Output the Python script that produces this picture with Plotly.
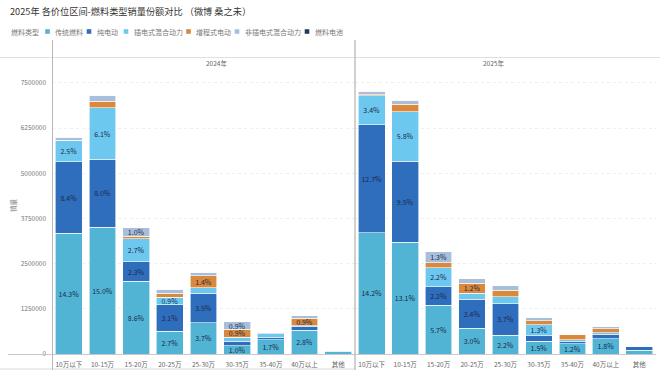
import plotly.graph_objects as go
from plotly.subplots import make_subplots

categories = ["10万以下", "10-15万", "15-20万", "20-25万", "25-30万", "30-35万", "35-40万", "40万以上", "其他"]
years = ["2024年", "2025年"]
year_totals = [23.4e6, 23.6e6]
fuel_types = ["传统燃料", "纯电动", "插电式混合动力", "增程式电动", "非插电式混合动力", "燃料电池"]
colors = ["#52b4d4", "#2f6ebd", "#6dc8f0", "#d9883c", "#a8bfdc", "#1f3b61"]

# share of the year's total sales (%)
share_2024 = {
    "传统燃料":       [14.3, 15.0, 8.6, 2.7, 3.7, 1.0, 1.7, 2.8, 0.35],
    "纯电动":         [8.4, 8.0, 2.3, 3.1, 3.5, 0.5, 0.2, 0.45, 0.05],
    "插电式混合动力": [2.5, 6.1, 2.7, 0.9, 0.65, 0.5, 0.5, 0.1, 0.05],
    "增程式电动":     [0.05, 0.8, 0.3, 0.5, 1.4, 0.9, 0.0, 0.9, 0.0],
    "非插电式混合动力": [0.35, 0.7, 1.0, 0.45, 0.4, 0.9, 0.15, 0.25, 0.0],
    "燃料电池":       [0, 0, 0, 0, 0, 0, 0, 0, 0],
}
share_2025 = {
    "传统燃料":       [14.2, 13.1, 5.7, 3.0, 2.2, 1.5, 1.2, 1.8, 0.45],
    "纯电动":         [12.7, 9.5, 2.2, 3.4, 3.7, 0.65, 0.25, 0.5, 0.4],
    "插电式混合动力": [3.4, 5.8, 2.2, 0.7, 0.8, 1.3, 0.25, 0.2, 0.0],
    "增程式电动":     [0.1, 0.85, 0.6, 1.2, 0.75, 0.45, 0.6, 0.45, 0.0],
    "非插电式混合动力": [0.4, 0.5, 1.3, 0.5, 0.55, 0.4, 0.0, 0.25, 0.0],
    "燃料电池":       [0, 0, 0, 0, 0, 0, 0, 0, 0],
}
y_ticks = [0, 1250000, 2500000, 3750000, 5000000, 6250000, 7500000]

W, H = 660, 377
L, R, T, B = 52, 4, 58, 23
pw = W - L - R
ph = H - T - B
split = (355 - L) / pw

FONT = "Noto Sans CJK SC"

fig = make_subplots(rows=1, cols=2, shared_yaxes=True, horizontal_spacing=0)
for yi, shares in enumerate([share_2024, share_2025]):
    for fi, ft in enumerate(fuel_types):
        s = shares[ft]
        vals = [v / 100 * year_totals[yi] for v in s]
        txt = [f"{v:.1f}%" if v >= 0.9 else "" for v in s]
        fig.add_trace(go.Bar(
            x=categories, y=vals, name=ft, marker_color=colors[fi],
            marker_line=dict(color="white", width=0.6),
            text=txt, textposition="inside", insidetextanchor="middle",
            textangle=0, constraintext="none",
            textfont=dict(size=7, color="#1b2a4a", family=FONT),
            showlegend=False,
        ), row=1, col=yi + 1)

ymax = ph / 36.15 * 1e6
fig.update_layout(
    width=W, height=H, barmode="stack", bargap=0.2,
    margin=dict(l=L, r=R, t=T, b=B),
    plot_bgcolor="white", paper_bgcolor="white",
    font=dict(family=FONT, color="#666"),
    uniformtext=dict(minsize=7, mode="show"),
    showlegend=False,
)

fig.update_xaxes(showline=False, ticks="", tickfont=dict(size=6.5, color="#666"),
                 showgrid=False, automargin=False, ticklabelstandoff=5)
fig.layout.xaxis.domain = [0, split]
fig.layout.xaxis2.domain = [split, 1]
fig.update_yaxes(range=[0, ymax], tickvals=y_ticks, tickformat="d",
                 tickfont=dict(size=6.5, color="#777"), showgrid=True,
                 gridcolor="#eeeeee", griddash="dot", gridwidth=1, zeroline=False,
                 showline=False, automargin=False, ticklabelstandoff=5)


def px_x(x):
    return (x - L) / pw


def px_y(y):
    return (H - B - y) / ph


line_col = "#c8c8c8"
shapes = [
    dict(type="line", xref="paper", yref="paper", x0=px_x(0), x1=px_x(660), y0=px_y(57.5), y1=px_y(57.5), line=dict(color="#e0e0e0", width=1)),
    dict(type="line", xref="paper", yref="paper", x0=px_x(8), x1=px_x(656), y0=px_y(354.5), y1=px_y(354.5), line=dict(color=line_col, width=1)),
    dict(type="line", xref="paper", yref="paper", x0=px_x(0), x1=px_x(355), y0=px_y(369), y1=px_y(369), line=dict(color="#d8d8d8", width=1)),
    dict(type="line", xref="paper", yref="paper", x0=px_x(52.5), x1=px_x(52.5), y0=px_y(40), y1=px_y(370), line=dict(color="#b8b8b8", width=1)),
    dict(type="line", xref="paper", yref="paper", x0=px_x(355), x1=px_x(355), y0=px_y(40), y1=px_y(370), line=dict(color="#c0c0c0", width=1.5)),
]

# manual legend
legend_x = [47.5, 89, 126, 188.5, 237, 307]
ly = 31.5
annotations = [
    dict(text="2025年 各价位区间-燃料类型销量份额对比 （微博 桑之未）", xref="paper", yref="paper",
         x=px_x(8), y=px_y(11), xanchor="left", yanchor="middle", showarrow=False,
         font=dict(size=9.2, color="#333")),
    dict(text="燃料类型", xref="paper", yref="paper", x=px_x(8.5), y=px_y(ly), xanchor="left",
         yanchor="middle", showarrow=False, font=dict(size=7, color="#777")),
    dict(text=years[0], xref="paper", yref="paper", x=split / 2, y=px_y(62.5), showarrow=False,
         yanchor="middle", font=dict(size=6.5, color="#666")),
    dict(text=years[1], xref="paper", yref="paper", x=(split + 1) / 2, y=px_y(62.5), showarrow=False,
         yanchor="middle", font=dict(size=6.5, color="#666")),
    dict(text="销量", xref="paper", yref="paper", x=px_x(13), y=px_y(205), showarrow=False,
         textangle=-90, xanchor="center", yanchor="middle", font=dict(size=6.5, color="#777")),
]
for i, ft in enumerate(fuel_types):
    x0 = legend_x[i]
    shapes.append(dict(type="rect", xref="paper", yref="paper",
                       x0=px_x(x0 - 2.3), x1=px_x(x0 + 2.3), y0=px_y(ly + 2.3), y1=px_y(ly - 2.3),
                       fillcolor=colors[i], line=dict(width=0)))
    annotations.append(dict(text=ft, xref="paper", yref="paper", x=px_x(x0 + 5.5), y=px_y(ly),
                            xanchor="left", yanchor="middle", showarrow=False,
                            font=dict(size=7, color="#777")))

fig.update_layout(shapes=shapes, annotations=annotations)

fig.write_html("out.html", config={"displayModeBar": False},
               post_script="document.body.style.margin='0';")
